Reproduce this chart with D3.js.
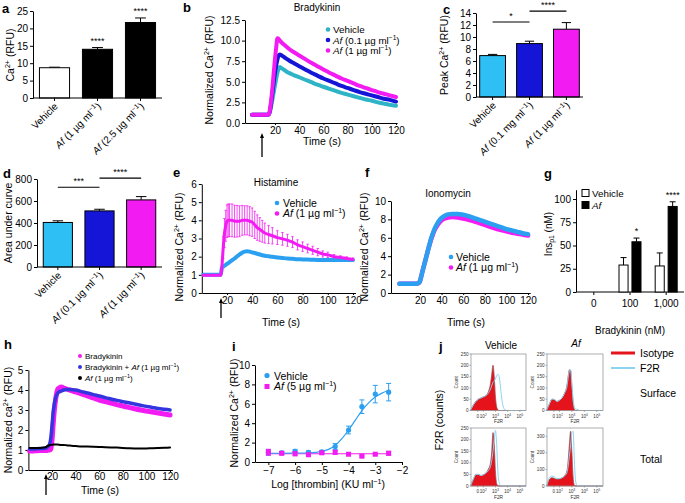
<!DOCTYPE html>
<html><head><meta charset="utf-8">
<script src="https://cdn.jsdelivr.net/npm/d3@7"></script>
<style>
body{margin:0;background:#fff}
svg text{font-family:"Liberation Sans",Arial,Helvetica,sans-serif;}
</style>
</head><body>
<svg id="c" width="685" height="503" xmlns="http://www.w3.org/2000/svg"></svg>
<script>
// ================= DATA =================
// Panel a
const aCategories = ["Vehicle", "<i>Af</i> (1 µg ml<sup>−1</sup>)", "<i>Af</i> (2.5 µg ml<sup>−1</sup>)"];
const aValues = [8.7, 14.0, 21.7];
const aErrors = [0.15, 0.5, 1.3];
const aStars = ["", "****", "****"];
const aTicks = [0, 5, 10, 15, 20, 25];

// Panel b (Bradykinin time course)
const bTime = [1,4,7,10,13,15,16,17,18,19,20,21,22,23,24,25,26,28,30,32,35,40,45,50,55,60,65,70,75,80,85,90,95,100,105,110,115,120];
const bVehicle = [1,1,1,1,1,1.05, 1.5,2.2,3.0,3.8,4.6,5.4,6.1,6.6,6.8,6.7,6.6, 6.4,6.2,6.05,5.85, 5.55,5.25,4.95,4.65,4.4,4.15,3.9,3.65,3.45,3.25,3.05,2.85,2.7,2.5,2.35,2.2,2.1];
const bAf01 = [1,1,1,1,1,1.05, 1.6,2.6,3.8,5.0,6.1,7.0,7.7,8.2,8.3,8.25,8.15, 7.95,7.75,7.55,7.3, 6.9,6.5,6.1,5.75,5.4,5.1,4.8,4.5,4.25,4.0,3.75,3.55,3.35,3.15,2.95,2.8,2.6];
const bAf1 = [1,1,1,1,1,1.05, 1.8,3.0,4.5,6.2,7.8,9.2,10.3,10.2,10.0,9.85,9.7, 9.45,9.2,8.95,8.65, 8.2,7.75,7.3,6.9,6.5,6.1,5.75,5.4,5.1,4.8,4.5,4.25,4.0,3.75,3.55,3.35,3.15];
const bTicksY = [0, 2.5, 5, 7.5, 10, 12.5];
const timeTicks = [20, 40, 60, 80, 100, 120];

// Panel c
const cCategories = ["Vehicle", "<i>Af</i> (0.1 mg ml<sup>−1</sup>)", "<i>Af</i> (1 µg ml<sup>−1</sup>)"];
const cValues = [6.9, 8.9, 11.3];
const cErrors = [0.2, 0.4, 1.1];
const cSig = [{from:0, to:1, at:12.5, label:"*"}, {from:1, to:2, at:14.3, label:"****"}];
const cTicks = [0,2,4,6,8,10,12,14];

// Panel d
const dCategories = ["Vehicle", "<i>Af</i> (0.1 µg ml<sup>−1</sup>)", "<i>Af</i> (1 µg ml<sup>−1</sup>)"];
const dValues = [405, 510, 610];
const dErrors = [15, 15, 30];
const dSig = [{from:0, to:1, at:725, label:"***"}, {from:1, to:2, at:808, label:"****"}];
const dTicks = [0,200,400,600,800];

// Panel e (Histamine)
const eTime = [1,4,7,10,13,15, 16,17,18,19,20,21,22, 24,26,28,30,32,34,36,38,40,42,44,46,48,50, 53,56, 60,64,68,72,76,80,84,88,92,96,100, 105,110,115,120];
const eVehicle = [1,1,1,1,1,1.0, 1.4,1.45,1.5,1.55,1.6,1.65,1.7, 1.8,1.9,2.02,2.12,2.22,2.28,2.3,2.28,2.24,2.2,2.16,2.12,2.08,2.05, 2.02,1.99, 1.96,1.93,1.9,1.88,1.86,1.85,1.84,1.83,1.82,1.82,1.82, 1.82,1.82,1.82,1.82];
const eAf = [0.98,0.98,0.98,0.98,0.98,0.98, 1.5,2.5,3.3,3.7,3.95,4.0,4.0, 4.0,3.95,3.95,3.95,4.0,4.0,4.0,3.95,3.9,3.75,3.6,3.5,3.4,3.3, 3.22,3.15, 3.05,2.98,2.9,2.8,2.65,2.55,2.45,2.35,2.25,2.15,2.1, 2.0,1.95,1.9,1.85];
const eAfErr = [0,0,0,0,0,0, 0.3,0.6,0.8,0.85,0.9,0.9,0.9, 0.9,0.88,0.87,0.85,0.82,0.8,0.8,0.8,0.78,0.75,0.7,0.65,0.6,0.55, 0.5,0.45, 0.38,0.35,0.33,0.3,0.28,0.26,0.24,0.22,0.2,0.17,0.15, 0.12,0.1,0.09,0.08];
const eTicksY = [0,1,2,3,4,5,6];

// Panel f (Ionomycin)
const fTime = [1,5,10,15, 17,18,19,20, 22,24,26,28,30,32,34,36,38,40, 43,46, 50,55,60,65,70,75,80,85,90,95,100,105,110,115,120];
const fVehicle = [1,1,1,1, 1.02,1.05,1.1,1.3, 2.2,3.1,4.0,4.9,5.8,6.5,7.1,7.55,7.9,8.15, 8.4,8.55, 8.6,8.6,8.5,8.35,8.15,7.95,7.75,7.55,7.35,7.15,6.95,6.8,6.65,6.5,6.4];
const fAf = [1,1,1,1, 1.02,1.05,1.1,1.3, 2.2,3.1,4.0,4.9,5.7,6.4,6.95,7.35,7.65,7.9, 8.1,8.2, 8.25,8.2,8.1,7.95,7.8,7.6,7.4,7.2,7.0,6.85,6.7,6.55,6.45,6.35,6.25];
const fTicksY = [0,2,4,6,8,10];

// Panel g (Ins p1)
const gCategories = ["0", "100", "1,000"];
const gVehicle = [0, 29, 28];
const gVehicleErr = [0, 8, 14];
const gAf = [0, 54, 92];
const gAfErr = [0, 4, 5];
const gStars = ["", "*", "****"];
const gTicks = [0,25,50,75,100];

// Panel h
const hTime = [1,4,7,10,13,15,16,17,18,19,20,21,22,23,24,25,26,28,30,32,35,40,45,50,55,60,65,70,75,80,85,90,95,100,105,110,115,120];
const hBradykinin = [0.95,0.95,0.96,0.97,0.98,0.98, 0.98,1.0,1.0,1.05,1.5,2.3,3.0,3.5,3.85,4.05,4.1, 4.15,4.1,4.05,4.0, 3.9,3.8,3.7,3.6,3.5,3.42,3.35,3.27,3.2,3.13,3.06,3.0,2.95,2.9,2.85,2.8,2.75];
const hBradykininAf = [1.05,1.05,1.06,1.07,1.08,1.1, 1.15,1.2,1.3,1.6,2.2,2.9,3.3,3.6,3.75,3.85,3.9, 3.95,4.0,4.02,4.02, 4.0,3.92,3.85,3.77,3.7,3.62,3.55,3.48,3.42,3.36,3.3,3.24,3.18,3.13,3.08,3.04,3.0];
const hAf = [1.1,1.1,1.1,1.1,1.12,1.15, 1.2,1.22,1.25,1.25,1.26,1.27,1.27,1.27,1.27,1.27,1.26, 1.25,1.25,1.24,1.22, 1.2,1.18,1.17,1.16,1.15,1.14,1.13,1.12,1.1,1.09,1.08,1.07,1.08,1.09,1.1,1.11,1.12];
const hTicksY = [0,1,2,3,4,5];

// Panel i (thrombin dose response)
const iLogDose = [-7,-6.5,-6,-5.5,-5,-4.5,-4,-3.5,-3,-2.5];
const iVehicle = [1.0,0.95,1.1,1.0,1.05,1.6,3.3,5.7,7.0,7.2];
const iVehicleErr = [0.3,0.15,0.2,0.15,0.15,0.3,0.4,0.7,0.9,0.9];
const iAf = [1.0,0.9,0.85,0.75,0.95,1.0,0.8,0.6,0.8,0.9];
const iAfErr = [0.3,0.15,0.2,0.15,0.15,0.2,0.1,0.1,0.1,0.2];
const iFitX = [-7,-6.5,-6,-5.5,-5,-4.75,-4.5,-4.25,-4,-3.75,-3.5,-3.25,-3,-2.75,-2.5];
const iFitVehicle = [0.9,0.9,0.92,0.95,1.1,1.3,1.7,2.4,3.3,4.3,5.3,6.1,6.7,7.1,7.4];
const iFitAf = [0.85,0.85,0.85,0.85,0.85,0.85,0.85,0.85,0.85,0.85,0.85,0.85,0.85,0.85,0.85];
const iTicksX = [-7,-6,-5,-4,-3,-2];
const iTicksY = [0,2,4,6,8,10];

// Panel j (flow cytometry histograms)
const jU = [0,0.2,0.4,0.6,0.8,1.0,1.2,1.4,1.6,1.7,1.8,1.9,2.0,2.1,2.2,2.3,2.4,2.5,2.6,2.7,2.8,3.0,3.5,4.0,4.5];
const jVehSurfIso = [5,25,40,50,55,60,65,80,120,160,200,150,60,15,3,0,0,0,0,0,0,0,0,0,0];
const jVehSurfF2R = [5,25,40,50,55,60,65,75,95,110,125,130,140,155,160,150,110,60,25,8,3,0,0,0,0];
const jAfSurfIso = [5,30,50,48,40,45,55,75,110,150,180,175,100,30,5,0,0,0,0,0,0,0,0,0,0];
const jAfSurfF2R = [5,30,50,48,40,45,55,75,105,145,175,180,120,50,15,8,5,3,0,0,0,0,0,0,0];
const jVehTotIso = [5,30,50,50,45,48,55,70,100,150,230,180,60,10,2,0,0,0,0,0,0,0,0,0,0];
const jVehTotF2R = [5,30,50,50,45,48,55,65,85,110,150,200,240,180,60,15,3,0,0,0,0,0,0,0,0];
const jAfTotIso = [5,40,50,45,40,42,48,60,90,150,250,330,200,50,5,0,0,0,0,0,0,0,0,0,0];
const jAfTotF2R = [5,50,60,55,45,45,50,60,80,120,180,250,320,330,150,30,5,0,0,0,0,0,0,0,0];
const jTickU = [0.55, 1, 2, 3, 4];
const jTickLabels = ["0", "10<sup>2</sup>", "10<sup>3</sup>", "10<sup>4</sup>", "10<sup>5</sup>"];

// ================= DRAWING =================
const FF = '"Liberation Sans", Arial, Helvetica, sans-serif';
const svg = d3.select('#c');
svg.append('rect').attr('width', 685).attr('height', 503).attr('fill', '#fff');

const C = {
  teal: '#2fb3c6', cyan: '#2ec0f5', blue: '#1515d8', mag: '#f21cf2',
  vblue: '#2b9ff0', red: '#e5141c', lblue: '#8ad4f2'
};

function rich(text, str, fs) {
  const re = /<(i|sup|sub)>(.*?)<\/\1>/g;
  let last = 0, m, shift = 0;
  const parts = [];
  while ((m = re.exec(str))) {
    if (m.index > last) parts.push({t: str.slice(last, m.index), k: ''});
    parts.push({t: m[2], k: m[1]});
    last = re.lastIndex;
  }
  if (last < str.length) parts.push({t: str.slice(last), k: ''});
  parts.forEach(p => {
    const ts = text.append('tspan').text(p.t);
    let target = 0;
    if (p.k === 'i') ts.attr('font-style', 'italic');
    if (p.k === 'sup') { ts.attr('font-size', fs * 0.68); target = -fs * 0.4; }
    if (p.k === 'sub') { ts.attr('font-size', fs * 0.68); target = fs * 0.22; }
    if (target !== shift) { ts.attr('dy', target - shift); shift = target; }
  });
  return text;
}
function label(x, y, str, fs, o = {}) {
  const t = svg.append('text').attr('x', x).attr('y', y).attr('font-size', fs)
    .attr('text-anchor', o.anchor || 'start').attr('fill', o.fill || '#000');
  if (o.weight) t.attr('font-weight', o.weight);
  if (o.rotate != null) t.attr('transform', `rotate(${o.rotate},${x},${y})`);
  return rich(t, str, fs);
}
function styleAxis(g, fs) {
  g.attr('font-family', FF).attr('font-size', fs);
  g.selectAll('text').attr('fill', '#000');
  g.selectAll('path,line').attr('stroke', '#000').attr('stroke-width', 1);
}
function yAxis(scale, x, ticks, fmt, fs = 10) {
  const g = svg.append('g').attr('transform', `translate(${x},0)`)
    .call(d3.axisLeft(scale).tickValues(ticks).tickSize(3).tickSizeOuter(0).tickPadding(2).tickFormat(fmt || (d => d)));
  styleAxis(g, fs); return g;
}
function xAxis(scale, y, ticks, fmt, fs = 10, ts = 2, pad = 2) {
  const g = svg.append('g').attr('transform', `translate(0,${y})`)
    .call(d3.axisBottom(scale).tickValues(ticks).tickSize(ts).tickSizeOuter(0).tickPadding(pad).tickFormat(fmt || (d => d)));
  styleAxis(g, fs); return g;
}
function arrow(x, y1, y2) {
  svg.append('line').attr('x1', x).attr('x2', x).attr('y1', y1).attr('y2', y2 + 3).attr('stroke', '#000').attr('stroke-width', 1.3);
  svg.append('path').attr('d', `M${x - 2},${y2 + 5}L${x},${y2}L${x + 2},${y2 + 5}Z`).attr('fill', '#000');
}
function series(xs, ys, t, v, color, w, curve) {
  const line = d3.line().x((d, i) => xs(t[i])).y(d => ys(d)).curve(curve || d3.curveMonotoneX);
  svg.append('path').datum(v).attr('d', line).attr('fill', 'none').attr('stroke', color)
    .attr('stroke-width', w).attr('stroke-linejoin', 'round').attr('stroke-linecap', 'round');
}

// ---------- bar panel helper ----------
function barPanel(o) {
  const xs = d3.scaleBand().domain(d3.range(o.values.length)).range([o.x0, o.x1]).paddingInner(o.pi).paddingOuter(o.po);
  const ys = d3.scaleLinear().domain(o.domain).range([o.yb, o.yt]);
  const bw = xs.bandwidth();
  o.values.forEach((v, i) => {
    const cx = xs(i) + bw / 2;
    const top = ys(v + o.errors[i]);
    svg.append('line').attr('x1', cx).attr('x2', cx).attr('y1', ys(v)).attr('y2', top).attr('stroke', '#000').attr('stroke-width', 1);
    svg.append('line').attr('x1', cx - bw * 0.18).attr('x2', cx + bw * 0.18).attr('y1', top).attr('y2', top).attr('stroke', '#000').attr('stroke-width', 1);
    svg.append('rect').attr('x', xs(i)).attr('y', ys(v)).attr('width', bw).attr('height', ys(0) - ys(v))
      .attr('fill', o.colors[i]).attr('stroke', '#000').attr('stroke-width', 1);
    if (o.stars && o.stars[i]) label(cx, top - 4, o.stars[i], 9, {anchor: 'middle'});
    svg.append('line').attr('x1', cx).attr('x2', cx).attr('y1', o.yb).attr('y2', o.yb + 3).attr('stroke', '#000');
    label(cx + 4, o.yb + 9, o.cats[i], 10, {anchor: 'end', rotate: -45});
  });
  svg.append('line').attr('x1', o.x0).attr('x2', o.x1).attr('y1', o.yb).attr('y2', o.yb).attr('stroke', '#000');
  yAxis(ys, o.x0, o.ticks, null, 10);
  (o.sig || []).forEach(s => {
    const y = ys(s.at);
    const xa = xs(s.from) + bw / 2, xb = xs(s.to) + bw / 2;
    svg.append('line').attr('x1', xa).attr('x2', xb).attr('y1', y).attr('y2', y).attr('stroke', '#000').attr('stroke-width', 1.2);
    label((xa + xb) / 2, y - 3, s.label, 9, {anchor: 'middle'});
  });
  return {xs, ys};
}

// ---------- Panel a ----------
label(2, 13, 'a', 13, {weight: 'bold'});
barPanel({x0: 33, x1: 162, yb: 98, yt: 11, domain: [0, 25], pi: 0.3, po: 0.15,
  values: aValues, errors: aErrors, colors: ['#fff', '#000', '#000'], stars: aStars, cats: aCategories, ticks: aTicks});
label(14, 55, 'Ca<sup>2+</sup> (RFU)', 10.5, {anchor: 'middle', rotate: -90});

// ---------- Panel b ----------
label(183, 12, 'b', 13, {weight: 'bold'});
{
  const xs = d3.scaleLinear().domain([-4.8, 121]).range([245, 397.2]);
  const ys = d3.scaleLinear().domain([0, 12.5]).range([123, 20]);
  yAxis(ys, 245, bTicksY, d3.format('.1f'), 10);
  xAxis(xs, 123, timeTicks, null, 10, 2);
  series(xs, ys, bTime, bVehicle, C.teal, 4);
  series(xs, ys, bTime, bAf01, C.blue, 4);
  series(xs, ys, bTime, bAf1, C.mag, 4);
  label(317, 11, 'Bradykinin', 10, {anchor: 'middle'});
  label(322, 145, 'Time (s)', 10.5, {anchor: 'middle'});
  label(213, 70, 'Normalized Ca<sup>2+</sup> (RFU)', 10.5, {anchor: 'middle', rotate: -90});
  arrow(262, 157, 133);
  [[C.teal, 'Vehicle', 33], [C.blue, '<i>Af</i> (0.1 µg ml<sup>−1</sup>)', 43.5], [C.mag, '<i>Af</i> (1 µg ml<sup>−1</sup>)', 54]].forEach(([c, t, y]) => {
    svg.append('circle').attr('cx', 328).attr('cy', y - 3.5).attr('r', 2.3).attr('fill', c);
    label(333, y, t, 9.8);
  });
}

// ---------- Panel c ----------
label(443, 14, 'c', 13, {weight: 'bold'});
barPanel({x0: 476, x1: 583, yb: 97, yt: 13, domain: [0, 14], pi: 0.3, po: 0.1,
  values: cValues, errors: cErrors, colors: [C.cyan, C.blue, C.mag], cats: cCategories, ticks: cTicks, sig: cSig});
label(448, 55, 'Peak Ca<sup>2+</sup> (RFU)', 10.5, {anchor: 'middle', rotate: -90});

// ---------- Panel d ----------
label(3, 178, 'd', 13, {weight: 'bold'});
barPanel({x0: 37, x1: 162, yb: 267, yt: 179, domain: [0, 800], pi: 0.3, po: 0.15,
  values: dValues, errors: dErrors, colors: [C.cyan, C.blue, C.mag], cats: dCategories, ticks: dTicks, sig: dSig});
label(12, 223, 'Area under curve', 10.5, {anchor: 'middle', rotate: -90});

// ---------- Panel e ----------
label(173, 177, 'e', 13, {weight: 'bold'});
{
  const xs = d3.scaleLinear().domain([0, 122]).range([201.8, 355.5]);
  const ys = d3.scaleLinear().domain([0, 6]).range([293, 184]);
  yAxis(ys, 201.8, eTicksY, null, 10);
  xAxis(xs, 293, timeTicks, null, 10, 2);
  eTime.forEach((t, i) => {
    if (!eAfErr[i]) return;
    const x = xs(t);
    svg.append('line').attr('x1', x).attr('x2', x).attr('y1', ys(eAf[i] - eAfErr[i])).attr('y2', ys(eAf[i] + eAfErr[i])).attr('stroke', C.mag).attr('stroke-width', 0.8);
    [eAf[i] - eAfErr[i], eAf[i] + eAfErr[i]].forEach(v => svg.append('line').attr('x1', x - 1.2).attr('x2', x + 1.2).attr('y1', ys(v)).attr('y2', ys(v)).attr('stroke', C.mag).attr('stroke-width', 0.8));
  });
  series(xs, ys, eTime, eVehicle, C.vblue, 4);
  series(xs, ys, eTime, eAf, C.mag, 3);
  label(276, 186, 'Histamine', 10, {anchor: 'middle'});
  label(281, 326, 'Time (s)', 10.5, {anchor: 'middle'});
  label(183, 247, 'Normalized Ca<sup>2+</sup> (RFU)', 10.5, {anchor: 'middle', rotate: -90});
  arrow(221, 318, 298);
  [[C.vblue, 'Vehicle', 206.5], [C.mag, '<i>Af</i> (1 µg ml<sup>−1</sup>)', 217]].forEach(([c, t, y]) => {
    svg.append('circle').attr('cx', 277).attr('cy', y - 3.5).attr('r', 2.3).attr('fill', c);
    label(283, y, t, 10.5);
  });
}

// ---------- Panel f ----------
label(365, 177, 'f', 13, {weight: 'bold'});
{
  const xs = d3.scaleLinear().domain([-6.8, 122]).range([391, 530.2]);
  const ys = d3.scaleLinear().domain([0, 10]).range([293, 201]);
  yAxis(ys, 391, fTicksY, null, 10);
  xAxis(xs, 293, timeTicks, null, 10, 2);
  series(xs, ys, fTime, fAf, C.mag, 4.5);
  series(xs, ys, fTime, fVehicle, C.vblue, 4.5);
  label(448, 197, 'Ionomycin', 10, {anchor: 'middle'});
  label(466, 326, 'Time (s)', 10.5, {anchor: 'middle'});
  label(368, 247, 'Normalized Ca<sup>2+</sup> (RFU)', 10.5, {anchor: 'middle', rotate: -90});
  [[C.vblue, 'Vehicle', 260.5], [C.mag, '<i>Af</i> (1 µg ml<sup>−1</sup>)', 271]].forEach(([c, t, y]) => {
    svg.append('circle').attr('cx', 451).attr('cy', y - 3.5).attr('r', 2.3).attr('fill', c);
    label(456, y, t, 10.5);
  });
}

// ---------- Panel g ----------
label(544, 178, 'g', 13, {weight: 'bold'});
{
  const xs = d3.scaleBand().domain(gCategories).range([575, 685]).paddingOuter(0.02);
  const sub = d3.scaleBand().domain([0, 1]).range([-11, 11]).paddingInner(0.3);
  const ys = d3.scaleLinear().domain([0, 110]).range([292, 189.7]);
  yAxis(ys, 576, gTicks, null, 10);
  svg.append('line').attr('x1', 576).attr('x2', 684).attr('y1', 292).attr('y2', 292).attr('stroke', '#000');
  gCategories.forEach((c, i) => {
    const cx = xs(c) + xs.bandwidth() / 2;
    svg.append('line').attr('x1', cx).attr('x2', cx).attr('y1', 292).attr('y2', 295).attr('stroke', '#000');
    label(cx, 307, c, 10, {anchor: 'middle'});
    [[gVehicle[i], gVehicleErr[i], '#fff'], [gAf[i], gAfErr[i], '#000']].forEach(([v, e, f], k) => {
      if (!v) return;
      const x = cx + sub(k), bw = sub.bandwidth();
      svg.append('line').attr('x1', x + bw / 2).attr('x2', x + bw / 2).attr('y1', ys(v)).attr('y2', ys(v + e)).attr('stroke', '#000');
      svg.append('line').attr('x1', x + bw / 2 - 3).attr('x2', x + bw / 2 + 3).attr('y1', ys(v + e)).attr('y2', ys(v + e)).attr('stroke', '#000');
      svg.append('rect').attr('x', x).attr('y', ys(v)).attr('width', bw).attr('height', ys(0) - ys(v)).attr('fill', f).attr('stroke', '#000');
    });
    if (gStars[i]) label(cx + sub(1) + sub.bandwidth() / 2, ys(gAf[i] + gAfErr[i]) - 4, gStars[i], 9, {anchor: 'middle'});
  });
  svg.append('rect').attr('x', 582).attr('y', 189.5).attr('width', 7).attr('height', 7).attr('fill', '#fff').attr('stroke', '#000');
  svg.append('rect').attr('x', 582).attr('y', 201.5).attr('width', 7).attr('height', 7).attr('fill', '#000').attr('stroke', '#000');
  label(592, 196.5, 'Vehicle', 9.8);
  label(592, 208.5, '<i>Af</i>', 9.8);
  label(552, 234, 'Ins<sub>p1</sub> (nM)', 10, {anchor: 'middle', rotate: -90});
  label(630, 334, 'Bradykinin (nM)', 10, {anchor: 'middle'});
}

// ---------- Panel h ----------
label(4, 349, 'h', 13, {weight: 'bold'});
{
  const xs = d3.scaleLinear().domain([0, 122]).range([28.4, 172.4]);
  const ys = d3.scaleLinear().domain([0, 5]).range([470, 370]);
  yAxis(ys, 28.4, hTicksY, null, 10);
  xAxis(xs, 470, timeTicks, null, 10, 2, 1);
  series(xs, ys, hTime, hBradykinin, C.mag, 5);
  series(xs, ys, hTime, hBradykininAf, '#3535e0', 3.5);
  series(xs, ys, hTime, hAf, '#000', 2);
  label(100, 494, 'Time (s)', 10.5, {anchor: 'middle'});
  label(12, 420, 'Normalized ca<sup>2+</sup> (RFU)', 10.5, {anchor: 'middle', rotate: -90});
  arrow(46, 495, 474);
  [[C.mag, 'Bradykinin', 359], ['#3535e0', 'Bradykinin + <i>Af</i> (1 µg ml<sup>−1</sup>)', 370], ['#000', '<i>Af</i> (1 µg ml<sup>−1</sup>)', 381]].forEach(([c, t, y]) => {
    svg.append('circle').attr('cx', 80).attr('cy', y - 3).attr('r', 2).attr('fill', c);
    label(85, y, t, 8);
  });
}

// ---------- Panel i ----------
label(232, 351, 'i', 13, {weight: 'bold'});
{
  const xs = d3.scaleLinear().domain([-7.5, -2]).range([255, 402]);
  const ys = d3.scaleLinear().domain([0, 10]).range([462, 365]);
  yAxis(ys, 255, iTicksY, null, 10);
  xAxis(xs, 462, iTicksX, d => d3.format('')(d).replace('-', '−'), 10, 3);
  const line = d3.line().x((d, i) => xs(iFitX[i])).y(d => ys(d)).curve(d3.curveMonotoneX);
  svg.append('path').datum(iFitAf).attr('d', line).attr('fill', 'none').attr('stroke', C.mag).attr('stroke-width', 1.2);
  svg.append('path').datum(iFitVehicle).attr('d', line).attr('fill', 'none').attr('stroke', C.vblue).attr('stroke-width', 1.2);
  [[iVehicle, iVehicleErr, C.vblue, 'c'], [iAf, iAfErr, C.mag, 's']].forEach(([vals, errs, col, shp]) => {
    vals.forEach((v, i) => {
      const x = xs(iLogDose[i]);
      svg.append('line').attr('x1', x).attr('x2', x).attr('y1', ys(v - errs[i])).attr('y2', ys(v + errs[i])).attr('stroke', col).attr('stroke-width', 1);
      [v - errs[i], v + errs[i]].forEach(e => svg.append('line').attr('x1', x - 2.5).attr('x2', x + 2.5).attr('y1', ys(e)).attr('y2', ys(e)).attr('stroke', col).attr('stroke-width', 1));
      if (shp === 'c') svg.append('circle').attr('cx', x).attr('cy', ys(v)).attr('r', 2.6).attr('fill', col);
      else svg.append('rect').attr('x', x - 2.5).attr('y', ys(v) - 2.5).attr('width', 5).attr('height', 5).attr('fill', col);
    });
  });
  svg.append('circle').attr('cx', 267).attr('cy', 375.5).attr('r', 2.6).attr('fill', C.vblue);
  label(274, 379.5, 'Vehicle', 10.5);
  svg.append('rect').attr('x', 264.5).attr('y', 384).attr('width', 5).attr('height', 5).attr('fill', C.mag);
  label(274, 390, '<i>Af</i> (5 µg ml<sup>−1</sup>)', 10.5);
  label(328, 488, 'Log [thrombin] (KU ml<sup>−1</sup>)', 10.5, {anchor: 'middle'});
  label(238, 413, 'Normalized Ca<sup>2+</sup> (RFU)', 10.5, {anchor: 'middle', rotate: -90});
}

// ---------- Panel j ----------
label(439, 351, 'j', 13, {weight: 'bold'});
function hist(x0, y0, w, h, ymax, yticks, iso, f2r) {
  const xs = d3.scaleLinear().domain([0, 4.5]).range([x0, x0 + w]);
  const ys = d3.scaleLinear().domain([0, ymax]).range([y0 + h, y0]);
  const area = d3.area().x((d, i) => xs(jU[i])).y0(ys(0)).y1(d => ys(d)).curve(d3.curveMonotoneX);
  const line = d3.line().x((d, i) => xs(jU[i])).y(d => ys(d)).curve(d3.curveMonotoneX);
  svg.append('path').datum(iso).attr('d', area).attr('fill', C.red).attr('stroke', '#c0101a').attr('stroke-width', 0.5);
  svg.append('path').datum(iso).attr('d', line).attr('fill', 'none').attr('stroke', '#777').attr('stroke-width', 0.4);
  svg.append('path').datum(f2r).attr('d', line).attr('fill', 'none').attr('stroke', C.lblue).attr('stroke-width', 1);
  svg.append('rect').attr('x', x0).attr('y', y0).attr('width', w).attr('height', h).attr('fill', 'none').attr('stroke', '#999').attr('stroke-width', 0.8);
  yticks.forEach(t => {
    svg.append('line').attr('x1', x0 - 1.5).attr('x2', x0).attr('y1', ys(t)).attr('y2', ys(t)).attr('stroke', '#666').attr('stroke-width', 0.5);
    label(x0 - 2.5, ys(t) + 1.6, String(t), 4.6, {anchor: 'end', fill: '#333'});
  });
  jTickU.forEach((u, k) => {
    svg.append('line').attr('x1', xs(u)).attr('x2', xs(u)).attr('y1', y0 + h).attr('y2', y0 + h + 1.5).attr('stroke', '#666').attr('stroke-width', 0.5);
    label(xs(u), y0 + h + 7, jTickLabels[k], 4.6, {anchor: 'middle', fill: '#333'});
  });
  label(x0 + w / 2, y0 + h + 12.5, 'F2R', 4.8, {anchor: 'middle', fill: '#333'});
  label(x0 - 13, y0 + h / 2, 'Count', 4.6, {anchor: 'middle', rotate: -90, fill: '#333'});
}
hist(471, 354, 55, 56.5, 250, [0, 50, 100, 150, 200, 250], jVehSurfIso, jVehSurfF2R);
hist(547, 354, 56, 56.5, 250, [0, 50, 100, 150, 200, 250], jAfSurfIso, jAfSurfF2R);
hist(471, 428, 55, 58, 250, [0, 50, 100, 150, 200, 250], jVehTotIso, jVehTotF2R);
hist(547, 428, 56, 58, 350, [0, 100, 200, 300], jAfTotIso, jAfTotF2R);
label(501, 349, 'Vehicle', 10, {anchor: 'middle'});
label(576, 347, '<i>Af</i>', 10, {anchor: 'middle'});
label(443, 420, 'F2R (counts)', 10.5, {anchor: 'middle', rotate: -90});
svg.append('line').attr('x1', 611).attr('x2', 635).attr('y1', 353).attr('y2', 353).attr('stroke', C.red).attr('stroke-width', 3);
svg.append('line').attr('x1', 611).attr('x2', 635).attr('y1', 368).attr('y2', 368).attr('stroke', C.lblue).attr('stroke-width', 2);
label(640, 357, 'Isotype', 10.5);
label(640, 372, 'F2R', 10.5);
label(640, 397, 'Surface', 10.5);
label(640, 463, 'Total', 10.5);
</script>
</body></html>
